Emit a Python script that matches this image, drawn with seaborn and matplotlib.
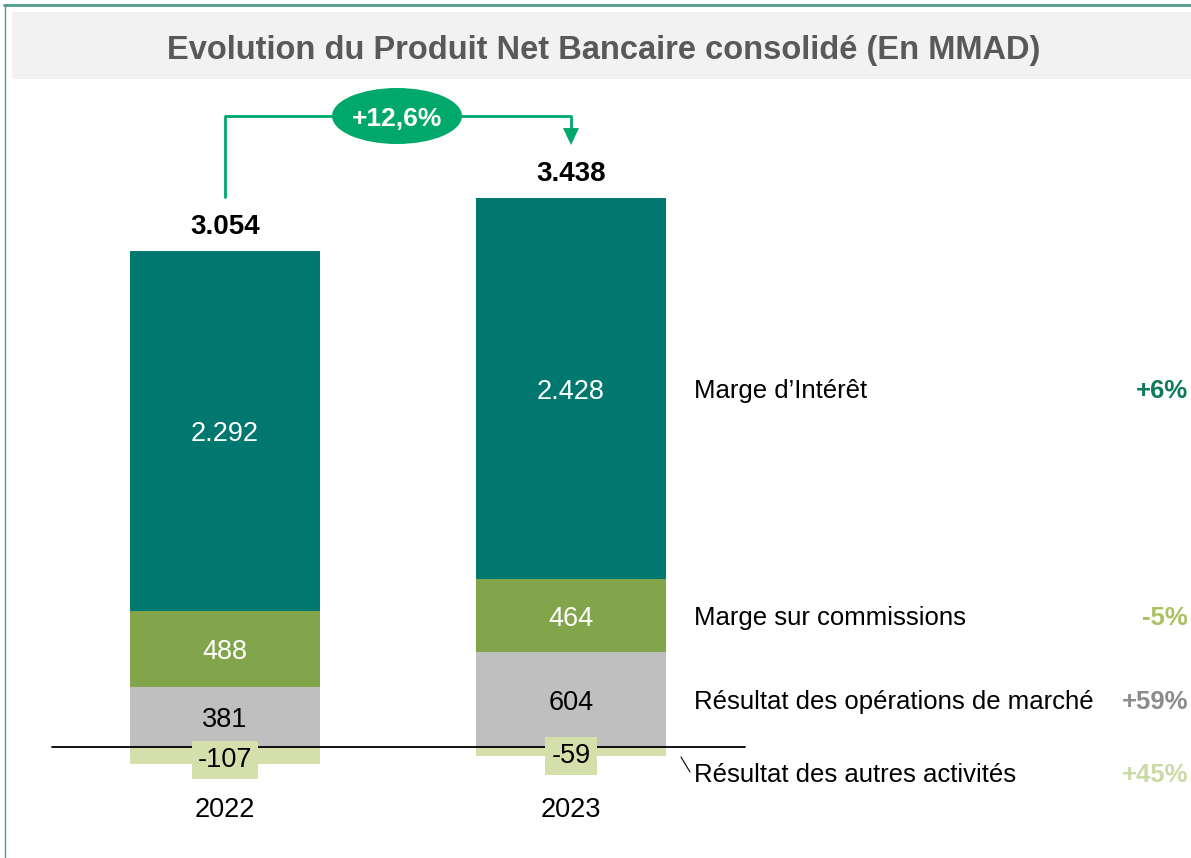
import numpy as np
import pandas as pd
import seaborn as sns
import matplotlib.pyplot as plt
from matplotlib.patches import Ellipse, Rectangle
from matplotlib.lines import Line2D

years = ["2022", "2023"]
marge_interet = [2292, 2428]
marge_commissions = [488, 464]
resultat_marche = [381, 604]
resultat_autres = [-107, -59]
totals = [3054, 3438]
evolution = "+12,6%"
segment_names = ["Marge d\u2019Intérêt", "Marge sur commissions",
                 "Résultat des opérations de marché", "Résultat des autres activités"]
segment_changes = ["+6%", "-5%", "+59%", "+45%"]

TEAL = "#00776F"
OLIVE = "#82A54C"
GREY = "#BFBFBF"
LIGHT = "#D5DFAC"
ARROW = "#00A86B"
change_colors = ["#0E7A5C", "#A9C160", "#8C8C8C", "#C9DBA5"]

sns.set_theme(style="white")
plt.rcParams["font.family"] = ["Liberation Sans", "DejaVu Sans"]

W, H = 1191, 858
fig = plt.figure(figsize=(W / 100, H / 100), dpi=100)


def fx(px):
    return px / W


def fy(py):
    return 1 - py / H


# frame and title band
fig.add_artist(Line2D([fx(4), 1], [fy(4.5), fy(4.5)], color="#4E9C8C", lw=2))
fig.add_artist(Line2D([fx(4.5), fx(4.5)], [fy(4), 0], color="#4E9C8C", lw=1))
fig.add_artist(Rectangle((fx(12), fy(79)), 1 - fx(12), fy(12) - fy(79),
                         facecolor="#F2F2F2", edgecolor="none"))
fig.text(fx(604), fy(47), "Evolution du Produit Net Bancaire consolidé (En MMAD)",
         ha="center", va="center_baseline", fontsize=23.5, fontweight="bold", color="#595959")

ax = fig.add_axes([0, fy(780), 1, fy(100) - fy(780)])

# stacked bars: draw cumulative heights from the largest down
df = pd.DataFrame({"year": years, "interet": marge_interet,
                   "commissions": marge_commissions, "marche": resultat_marche,
                   "autres": resultat_autres})
df["top_grey"] = df["marche"]
df["top_olive"] = df["marche"] + df["commissions"]
df["top_teal"] = df["top_olive"] + df["interet"]

bw = 0.552
for col, c in [("top_teal", TEAL), ("top_olive", OLIVE), ("top_grey", GREY), ("autres", LIGHT)]:
    sns.barplot(data=df, x="year", y=col, color=c, width=bw, saturation=1,
                linewidth=0, edgecolor="none", ax=ax)

k = 496 / 3161  # px per unit
ax.set_xlim(-225 / 346, (W - 225) / 346)
ax.set_ylim(-(780 - 747) / k, (747 - 100) / k)
ax.axhline(0, xmin=52 / W, xmax=745 / W, color="black", lw=1.3)

lbl = dict(ha="center", va="center_baseline", fontsize=19.5)
for i, r in df.iterrows():
    ax.text(i, r["top_olive"] + r["interet"] / 2, f"{r['interet']:,}".replace(",", "."),
            color="white", **lbl)
    ax.text(i, r["marche"] + r["commissions"] / 2, f"{r['commissions']}", color="white", **lbl)
    ax.text(i, r["marche"] / 2, f"{r['marche']}", color="black", **lbl)
    ax.text(i, r["autres"] / 2 - 10, f"{r['autres']}", color="black",
            bbox=dict(boxstyle="square,pad=0.22", facecolor=LIGHT, edgecolor="none"), **lbl)
    ax.annotate(f"{totals[i]:,}".replace(",", "."), (i, r["top_teal"]), xytext=(0, 8),
                textcoords="offset points", ha="center", va="bottom",
                fontsize=20, fontweight="bold", color="black")

# right-hand legend labels
xl = (694 - 225) / 346
xr = (1188 - 225) / 346
last = df.iloc[-1]
ys = [last["top_olive"] + last["interet"] / 2,
      last["marche"] + last["commissions"] / 2,
      last["marche"] / 2,
      -(773 - 747) / k]
for name, chg, col, y in zip(segment_names, segment_changes, change_colors, ys):
    ax.text(xl, y, name, ha="left", va="center_baseline", fontsize=18.5, color="black")
    ax.text(xr, y, chg, ha="right", va="center_baseline", fontsize=18.5, fontweight="bold",
            color=col)
ax.plot([(681 - 225) / 346, (690 - 225) / 346], [-(757 - 747) / k, -(772 - 747) / k],
        color="black", lw=0.8, clip_on=False)

# evolution arrow
fig.add_artist(Line2D([fx(225), fx(225), fx(571), fx(571)],
                      [fy(197), fy(116), fy(116), fy(130)], color=ARROW, lw=2))
fig.add_artist(plt.Polygon([[fx(563), fy(128)], [fx(579), fy(128)], [fx(571), fy(145)]],
                           closed=True, facecolor=ARROW, edgecolor="none"))
fig.add_artist(Ellipse((fx(397), fy(116)), 130 / W, 56 / H, facecolor=ARROW, edgecolor="none"))
fig.text(fx(397), fy(116), evolution, ha="center", va="center_baseline", fontsize=19,
         fontweight="bold", color="white")

ax.set_xlabel("")
ax.set_ylabel("")
ax.set_yticks([])
ax.tick_params(axis="x", length=0, pad=12, labelsize=19.5, labelcolor="black")
sns.despine(ax=ax, left=True, bottom=True)
ax.patch.set_alpha(0)

fig.savefig("out.png", dpi=100)
